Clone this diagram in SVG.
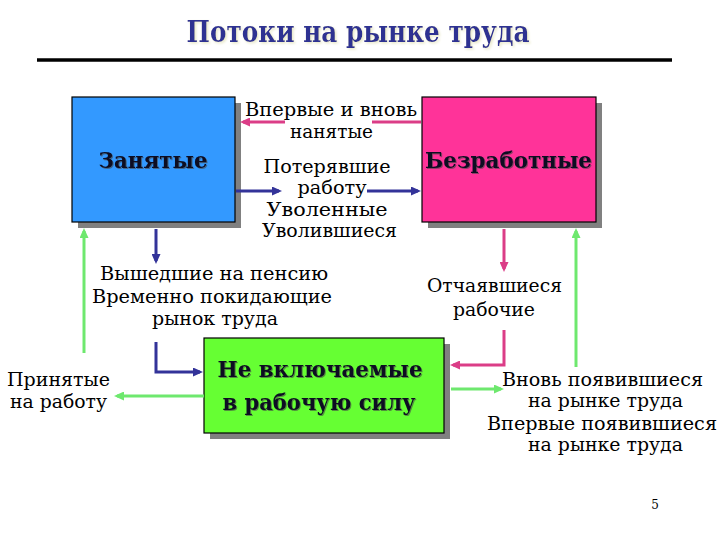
<svg xmlns="http://www.w3.org/2000/svg" width="720" height="540" viewBox="0 0 720 540" font-family="'DejaVu Serif', 'Liberation Serif', serif">
  <style>
    .title { font-size: 29px; font-weight: bold; fill: #2E3192; text-anchor: middle; }
    .box-label { font-size: 23px; font-weight: bold; fill: #0a0a22; text-anchor: middle; }
    .lbl { font-size: 19px; fill: #000000; text-anchor: middle; }
    .shadow { fill: #808080; }
    .box { stroke: #000000; stroke-width: 1.2; }
    .pink { stroke: #DB3D87; stroke-width: 3; fill: none; }
    .blue { stroke: #333399; stroke-width: 3; fill: none; }
    .green { stroke: #6EE86E; stroke-width: 3; fill: none; }
    .pnum { font-size: 12px; fill: #000000; text-anchor: middle; }
  </style>
  <defs>
    <marker id="ah-pink" markerUnits="userSpaceOnUse" markerWidth="10" markerHeight="9" refX="7" refY="4.5" orient="auto">
      <path d="M0,0 L10,4.5 L0,9 z" fill="#DB3D87"/>
    </marker>
    <marker id="ah-blue" markerUnits="userSpaceOnUse" markerWidth="10" markerHeight="9" refX="7" refY="4.5" orient="auto">
      <path d="M0,0 L10,4.5 L0,9 z" fill="#333399"/>
    </marker>
    <marker id="ah-green" markerUnits="userSpaceOnUse" markerWidth="10" markerHeight="9" refX="7" refY="4.5" orient="auto">
      <path d="M0,0 L10,4.5 L0,9 z" fill="#6EE86E"/>
    </marker>
    <filter id="tshadow" x="-5%" y="-20%" width="110%" height="140%">
      <feDropShadow dx="1.5" dy="1.5" stdDeviation="1" flood-color="#E8E8C8" flood-opacity="1"/>
    </filter>
    <filter id="bshadow" x="-5%" y="-20%" width="110%" height="140%">
      <feDropShadow dx="1" dy="1" stdDeviation="0.6" flood-color="#444444" flood-opacity="0.6"/>
    </filter>
  </defs>

  <rect x="0" y="0" width="720" height="540" fill="#FFFFFF"/>

  <g id="title">
    <text class="title" x="358" y="42" textLength="343" lengthAdjust="spacingAndGlyphs" filter="url(#tshadow)">Потоки на рынке труда</text>
    <line x1="37" y1="60" x2="672" y2="60" stroke="#000000" stroke-width="3.5"/>
  </g>

  <g id="node-employed">
    <rect class="shadow" x="78" y="103" width="163" height="125"/>
    <rect class="box" x="72" y="97" width="163" height="125" fill="#3399FF"/>
    <text class="box-label" x="153" y="168" textLength="109" lengthAdjust="spacingAndGlyphs" filter="url(#bshadow)">Занятые</text>
  </g>

  <g id="node-unemployed">
    <rect class="shadow" x="428" y="103" width="174" height="125"/>
    <rect class="box" x="422" y="97" width="174" height="125" fill="#FF3399"/>
    <text class="box-label" x="508.5" y="168" textLength="167" lengthAdjust="spacingAndGlyphs" filter="url(#bshadow)">Безработные</text>
  </g>

  <g id="node-not-in-labor-force">
    <rect class="shadow" x="210" y="344" width="240" height="95"/>
    <rect class="box" x="204" y="338" width="240" height="95" fill="#66FF33"/>
    <text class="box-label" x="320" y="377" textLength="205" lengthAdjust="spacingAndGlyphs" filter="url(#bshadow)">Не включаемые</text>
    <text class="box-label" x="319" y="410" textLength="193" lengthAdjust="spacingAndGlyphs" filter="url(#bshadow)">в рабочую силу</text>
  </g>

  <g id="connectors">
    <path class="pink" d="M421,122 H372"/>
    <path class="pink" d="M285,122 H243" marker-end="url(#ah-pink)"/>
    <path class="blue" d="M236,191 H279" marker-end="url(#ah-blue)"/>
    <path class="blue" d="M367,191 H418" marker-end="url(#ah-blue)"/>
    <path class="blue" d="M156,229 V261" marker-end="url(#ah-blue)"/>
    <path class="blue" d="M156,342 V372 H200" marker-end="url(#ah-blue)"/>
    <path class="green" d="M204,396 H117" marker-end="url(#ah-green)"/>
    <path class="green" d="M84,353 V231" marker-end="url(#ah-green)"/>
    <path class="pink" d="M504,229 V269" marker-end="url(#ah-pink)"/>
    <path class="pink" d="M504,330 V365 H453" marker-end="url(#ah-pink)"/>
    <path class="green" d="M451,389 H501" marker-end="url(#ah-green)"/>
    <path class="green" d="M576,367 V231" marker-end="url(#ah-green)"/>
  </g>

  <g id="labels">
    <text class="lbl" x="331" y="116" textLength="172" lengthAdjust="spacingAndGlyphs">Впервые и вновь</text>
    <text class="lbl" x="331.5" y="138" textLength="83" lengthAdjust="spacingAndGlyphs">нанятые</text>
    <text class="lbl" x="327" y="173" textLength="127" lengthAdjust="spacingAndGlyphs">Потерявшие</text>
    <text class="lbl" x="332" y="194" textLength="69" lengthAdjust="spacingAndGlyphs">работу</text>
    <text class="lbl" x="327" y="216" textLength="121" lengthAdjust="spacingAndGlyphs">Уволенные</text>
    <text class="lbl" x="329.5" y="237" textLength="135" lengthAdjust="spacingAndGlyphs">Уволившиеся</text>

    <text class="lbl" x="214" y="280" textLength="228" lengthAdjust="spacingAndGlyphs">Вышедшие на пенсию</text>
    <text class="lbl" x="212" y="303" textLength="240" lengthAdjust="spacingAndGlyphs">Временно покидающие</text>
    <text class="lbl" x="215" y="325" textLength="126" lengthAdjust="spacingAndGlyphs">рынок труда</text>

    <text class="lbl" x="58.5" y="386" textLength="103" lengthAdjust="spacingAndGlyphs">Принятые</text>
    <text class="lbl" x="58.5" y="408" textLength="97" lengthAdjust="spacingAndGlyphs">на работу</text>

    <text class="lbl" x="494.5" y="292" textLength="135" lengthAdjust="spacingAndGlyphs">Отчаявшиеся</text>
    <text class="lbl" x="494" y="316" textLength="82" lengthAdjust="spacingAndGlyphs">рабочие</text>

    <text class="lbl" x="602.5" y="386" textLength="201" lengthAdjust="spacingAndGlyphs">Вновь появившиеся</text>
    <text class="lbl" x="605.5" y="407" textLength="155" lengthAdjust="spacingAndGlyphs">на рынке труда</text>
    <text class="lbl" x="602" y="430" textLength="230" lengthAdjust="spacingAndGlyphs">Впервые появившиеся</text>
    <text class="lbl" x="605.5" y="451" textLength="155" lengthAdjust="spacingAndGlyphs">на рынке труда</text>
  </g>

  <text class="pnum" x="655" y="509">5</text>
</svg>
